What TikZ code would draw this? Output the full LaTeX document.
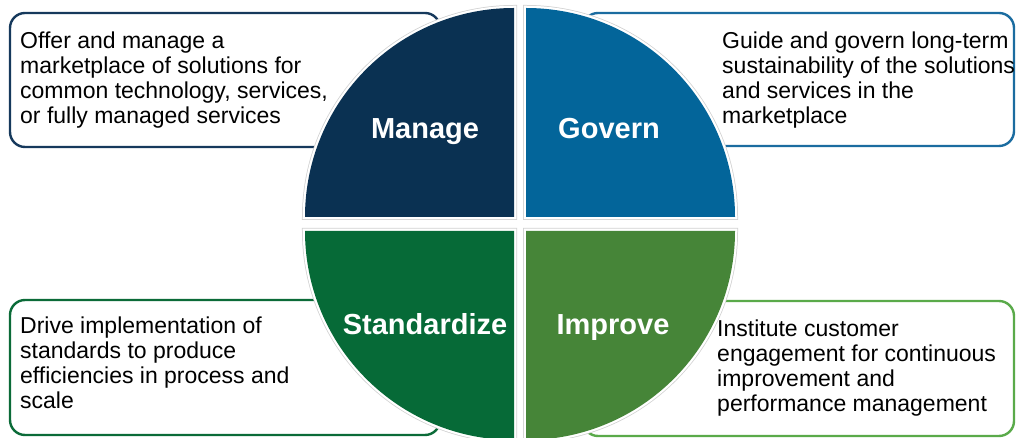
\documentclass[tikz,border=0pt]{standalone}
\usepackage{fontspec}
\setmainfont{Liberation Sans}
\definecolor{cManage}{HTML}{0A3152}
\definecolor{cGovern}{HTML}{03659A}
\definecolor{cStand}{HTML}{066A37}
\definecolor{cImprove}{HTML}{468538}
\definecolor{bManage}{HTML}{16395C}
\definecolor{bGovern}{HTML}{1B6CA0}
\definecolor{bStand}{HTML}{0B6B38}
\definecolor{bImprove}{HTML}{5AAA4A}
\tikzset{
  descbox/.style={line width=2.4pt, rounded corners=15pt, fill=white},
  desctext/.style={anchor=north west, inner sep=0pt, align=left, font=\fontsize{23}{25}\selectfont, text=black},
  quadlabel/.style={anchor=base, inner sep=0pt, font=\fontsize{29}{32}\selectfont\bfseries, text=white},
  qshadow/.style={line width=6pt, draw=black!18},
  qwhite/.style={line width=4.5pt, draw=white}
}
\begin{document}
\begin{tikzpicture}[x=1pt,y=1pt]
\useasboundingbox (0,0) rectangle (1016,438);
% description boxes
\draw[descbox, draw=bManage] (10,425) rectangle (440,291);
\draw[descbox, draw=bGovern] (583,425) rectangle (1014,292);
\draw[descbox, draw=bStand] (10,138) rectangle (440,3);
\draw[descbox, draw=bImprove] (583,137) rectangle (1014,2);
% quadrants
\foreach \s in {qshadow,qwhite}{
  \draw[\s] (514,221) -- ++(-209,0) arc[start angle=180, end angle=90, radius=209] -- cycle;
  \draw[\s] (526,221) -- ++(0,209) arc[start angle=90, end angle=0, radius=209] -- cycle;
  \draw[\s] (514,207) -- ++(-209,0) arc[start angle=180, end angle=270, radius=209] -- cycle;
  \draw[\s] (526,207) -- ++(209,0) arc[start angle=0, end angle=-90, radius=209] -- cycle;
}
\fill[cManage] (514,221) -- ++(-209,0) arc[start angle=180, end angle=90, radius=209] -- cycle;
\fill[cGovern] (526,221) -- ++(0,209) arc[start angle=90, end angle=0, radius=209] -- cycle;
\fill[cStand] (514,207) -- ++(-209,0) arc[start angle=180, end angle=270, radius=209] -- cycle;
\fill[cImprove] (526,207) -- ++(209,0) arc[start angle=0, end angle=-90, radius=209] -- cycle;
% labels
\node[quadlabel] (manage) at (425,299) {Manage};
\node[quadlabel] (govern) at (609,299) {Govern};
\node[quadlabel] (stand) at (425,103) {Standardize};
\node[quadlabel] (improve) at (613,103) {Improve};
% descriptions
\node[desctext] (tmanage) at (20,406.5) {Offer and manage a\\marketplace of solutions for\\common technology, services,\\or fully managed services};
\node[desctext] (tgovern) at (722,406.5) {Guide and govern long-term\\sustainability of the solutions\\and services in the\\marketplace};
\node[desctext] (tstand) at (20,121.5) {Drive implementation of\\standards to produce\\efficiencies in process and\\scale};
\node[desctext] (timprove) at (717,118.5) {Institute customer\\engagement for continuous\\improvement and\\performance management};
\end{tikzpicture}
\end{document}
